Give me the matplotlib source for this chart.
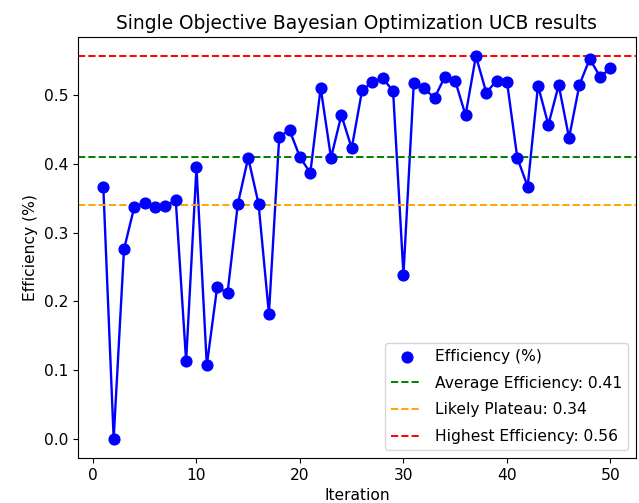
import numpy as np
import matplotlib
matplotlib.use("Agg")
import matplotlib.pyplot as plt

plt.rcParams['font.size'] = 11.2

# efficiency per iteration of the UCB run
iterations = list(range(1, 51))
efficiency = [0.366, 0.000, 0.276, 0.338, 0.343, 0.337, 0.339, 0.347, 0.113, 0.395,
              0.107, 0.221, 0.212, 0.342, 0.409, 0.342, 0.182, 0.440, 0.449, 0.410,
              0.387, 0.511, 0.409, 0.471, 0.423, 0.507, 0.519, 0.525, 0.506, 0.239,
              0.518, 0.510, 0.496, 0.527, 0.521, 0.471, 0.557, 0.504, 0.521, 0.520,
              0.409, 0.367, 0.514, 0.457, 0.515, 0.438, 0.515, 0.553, 0.527, 0.539]

avg_eff = 0.41
plateau = 0.34
best_eff = max(efficiency)

fig = plt.figure(figsize=(6.39, 5.03), dpi=100)
ax = fig.add_axes([0.122, 0.0895, 0.873, 0.837])

ax.plot(iterations, efficiency, color='blue', linewidth=1.7)
ax.scatter(iterations, efficiency, color='blue', s=60, zorder=3, label='Efficiency (%)')
ax.axhline(avg_eff, color='green', linestyle='--', linewidth=1.4, label=f'Average Efficiency: {avg_eff:.2f}')
ax.axhline(plateau, color='orange', linestyle='--', linewidth=1.4, label=f'Likely Plateau: {plateau:.2f}')
ax.axhline(best_eff, color='red', linestyle='--', linewidth=1.4, label=f'Highest Efficiency: {best_eff:.2f}')

ax.set_title('Single Objective Bayesian Optimization UCB results')
ax.set_xlabel('Iteration')
ax.set_ylabel('Efficiency (%)')
ax.legend(loc='lower right', labelspacing=0.75)

fig.savefig('out.png', dpi=100)
